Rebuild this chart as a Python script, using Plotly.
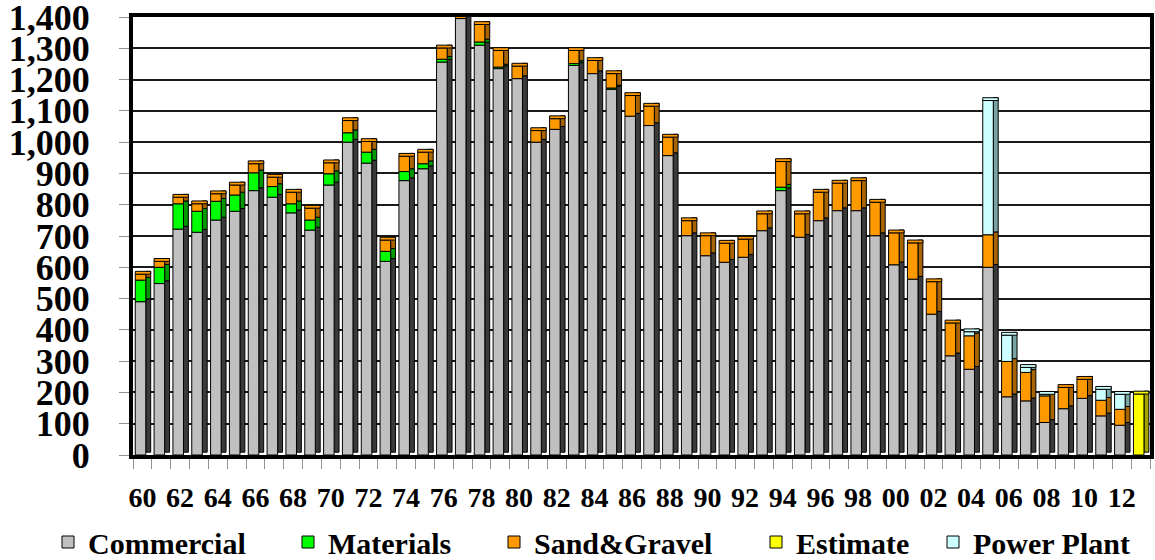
import plotly.graph_objects as go
import numpy as np

years = list(range(1960, 2014))

commercial = [490, 548, 722, 712, 751, 779, 845, 824, 774, 719,
              863, 1000, 933, 619, 877, 915, 1256, 1395, 1310, 1235,
              1203, 1000, 1041, 1245, 1219, 1169, 1083, 1053, 957, 701,
              637, 616, 632, 717, 845, 696, 749, 781, 781, 701,
              608, 562, 450, 317, 274, 600, 186, 173, 104, 148,
              181, 125, 95, 0]
materials = [69, 52, 81, 67, 60, 52, 57, 34, 29, 32,
             36, 30, 35, 32, 29, 16, 9, 0, 10, 5,
             0, 0, 0, 6, 0, 4, 0, 0, 0, 0,
             0, 0, 0, 0, 11, 0, 0, 0, 0, 0,
             0, 0, 0, 0, 0, 0, 0, 0, 0, 0,
             0, 0, 0, 0]
sand_gravel = [19, 19, 21, 24, 24, 32, 29, 30, 37, 38,
               35, 39, 34, 36, 49, 37, 36, 10, 56, 53,
               40, 37, 34, 42, 42, 46, 66, 62, 59, 48,
               64, 61, 58, 54, 82, 75, 91, 88, 96, 107,
               102, 116, 104, 105, 107, 104, 113, 91, 85, 68,
               61, 50, 51, 0]
power_plant = [0] * 44 + [13, 429, 84, 16, 5, 0, 0, 35, 48, 0]
estimate = [0] * 53 + [195]

tick_years = list(range(1960, 2014, 2))
tick_labels = ["60", "62", "64", "66", "68", "70", "72", "74", "76", "78",
               "80", "82", "84", "86", "88", "90", "92", "94", "96", "98",
               "00", "02", "04", "06", "08", "10", "12"]

FONT = "'Liberation Serif', 'Times New Roman', Times, serif"
depth = 9

series = [
    # name, values, front colour, side colour, stacked, legend id, legend text x
    ("Commercial", commercial, "#C0C0C0", "#3A3A3A", True, "legend", 88),
    ("Materials", materials, "#00FF00", "#009A00", True, "legend2", 328),
    ("Sand&Gravel", sand_gravel, "#FF9900", "#A86400", True, "legend3", 534),
    ("Power Plant", power_plant, "#CCFFFF", "#7AA4A4", True, "legend5", 973),
    ("Estimate", estimate, "#FFFF00", "#A4A400", False, "legend4", 796),
]

fig = go.Figure()
cum = np.zeros(len(years))
fronts, sides = [], []
top_color = ["#C0C0C0"] * len(years)
for name, vals, fc, sc, stack, lg, _ in series:
    v = np.array(vals, dtype=float)
    base = cum.copy() if stack else np.zeros(len(years))
    yv = [x if x > 0 else None for x in v]
    for i, x in enumerate(v):
        if x > 0:
            top_color[i] = fc
    sides.append(go.Bar(x=years, y=yv, base=base + depth, width=0.26, offset=0.18,
                        marker=dict(color=sc, line=dict(color="#000000", width=1)),
                        showlegend=False, hoverinfo="skip"))
    fronts.append(go.Bar(x=years, y=yv, base=base, width=0.56, offset=-0.38, name=name,
                         marker=dict(color=fc, line=dict(color="#000000", width=1)),
                         legend=lg))
    if stack:
        cum = cum + v

total = np.array(commercial) + np.array(materials) + np.array(sand_gravel) + \
    np.array(power_plant) + np.array(estimate)

for t in sides:
    fig.add_trace(t)
for t in fronts:
    fig.add_trace(t)
fig.add_trace(go.Bar(x=years, y=[depth] * len(years), base=total, width=0.82, offset=-0.38,
                     marker=dict(color=top_color, line=dict(color="#000000", width=1)),
                     showlegend=False, hoverinfo="skip"))

L, R, T, B = 133, 5, 17, 105
pw, ph = 1155 - L - R, 560 - T - B

legends = {}
for name, vals, fc, sc, stack, lg, tx in series:
    legends[lg] = dict(orientation="h", x=(tx - 40 - L) / pw, xanchor="left",
                       y=-(542 - (T + ph)) / ph, yanchor="middle",
                       font=dict(family=FONT, size=30, weight="bold", color="#000000"),
                       itemwidth=30, bgcolor="rgba(0,0,0,0)")

fig.update_layout(
    width=1155, height=560,
    margin=dict(l=L, r=R, t=T, b=B, autoexpand=False),
    barmode="overlay",
    plot_bgcolor="#FFFFFF", paper_bgcolor="#FFFFFF",
    font=dict(family=FONT, color="#000000"),
    xaxis=dict(range=[1959.5, 2013.5], tickmode="array", tickvals=tick_years,
               ticktext=tick_labels, ticks="", showgrid=False, zeroline=False,
               tickfont=dict(family=FONT, size=28, weight="bold"),
               ticklabelstandoff=14, ticklabeloverflow="allow",
               showline=True, linewidth=4, linecolor="#000000", mirror=True,
               minor=dict(tickmode="linear", tick0=1959.5, dtick=1, ticks="outside",
                          ticklen=10, tickcolor="#909090", tickwidth=1, showgrid=False)),
    yaxis=dict(range=[0, 1400], tickmode="linear", tick0=0, dtick=100, tickformat=",",
               ticks="outside", ticklen=10, tickcolor="#909090", tickwidth=1,
               tickfont=dict(family=FONT, size=36, weight="bold"),
               ticklabelstandoff=22, ticklabeloverflow="allow",
               showgrid=True, gridcolor="#1A1A1A", gridwidth=2, zeroline=False,
               showline=True, linewidth=4, linecolor="#000000", mirror=True),
    **legends,
)

fig.write_html("out.html")
